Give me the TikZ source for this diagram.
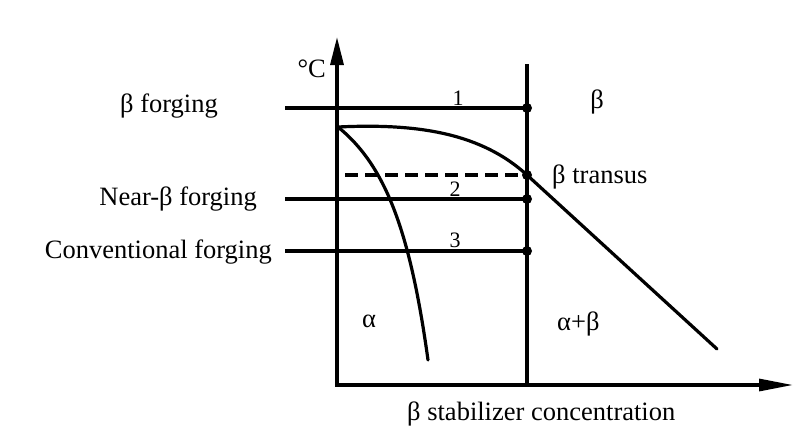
\documentclass[tikz,border=0pt]{standalone}
\usepackage{fontspec}
\setmainfont{Liberation Serif}
\usetikzlibrary{arrows.meta}
\begin{document}
\begin{tikzpicture}[x=1pt,y=-1pt,
  thick line/.style={line width=3.2pt},
  curve/.style={line width=3.2pt, line cap=round},
  dashline/.style={line width=3.2pt, dash pattern=on 13pt off 7pt},
  dot/.style={circle, fill=black, inner sep=0pt, minimum size=10pt},
  lbl/.style={font=\fontsize{26.5}{30}\selectfont, inner sep=0pt},
  num/.style={font=\fontsize{22}{26}\selectfont, inner sep=0pt}
]
\useasboundingbox (0,0) rectangle (811,429);

% axes
\coordinate (O) at (337,385);
\coordinate (Y) at (337,37);
\coordinate (X) at (793,385);
\draw[thick line, {Triangle[length=28pt,width=13pt]}-{Triangle[length=34pt,width=12pt]}] (Y) -- (O) -- (X);

% vertical composition line
\coordinate (Vt) at (527,64);
\coordinate (Vb) at (527,385);
\draw[thick line] (Vt) -- (Vb);

% forging lines and dots
\coordinate (L1) at (285,108);
\coordinate (L2) at (285,199);
\coordinate (L3) at (285,251);
\coordinate (Ld) at (345,175);
\node[dot] (D1) at (527,108) {};
\node[dot] (Dt) at (527,175) {};
\node[dot] (D2) at (527,199) {};
\node[dot] (D3) at (527,251) {};
\draw[thick line] (L1) -- (D1.center);
\draw[thick line] (L2) -- (D2.center);
\draw[thick line] (L3) -- (D3.center);
\draw[dashline] (Ld) -- (Dt.center);

% curves
\coordinate (Top) at (338,127);
\coordinate (Ce) at (717,349);
\coordinate (Ae) at (428,360);
\draw[curve] (Top) .. controls (420,123) and (482,134) .. (Dt.center) -- (Ce);
\draw[curve] (Top) .. controls (385,165) and (410,230) .. (Ae);

% labels
\node[lbl, anchor=base east] (bf) at (218,112) {β forging};
\node[lbl, anchor=base east] (nbf) at (257,205) {Near-β forging};
\node[lbl, anchor=base east] (cf) at (272,258) {Conventional forging};
\node[lbl, anchor=base east] (degc) at (326,77) {°C};
\node[lbl, anchor=base] (beta) at (597,108) {β};
\node[num, anchor=base] (n1) at (458,105) {1};
\node[num, anchor=base] (n2) at (455,196) {2};
\node[num, anchor=base] (n3) at (455,247) {3};
\node[lbl, anchor=base west] (bt) at (552,183) {β transus};
\node[lbl, anchor=base] (alpha) at (369,327) {α};
\node[lbl, anchor=base west] (ab) at (557,330) {α+β};
\node[lbl, anchor=base west] (xl) at (407,420) {β stabilizer concentration};
\end{tikzpicture}
\end{document}
